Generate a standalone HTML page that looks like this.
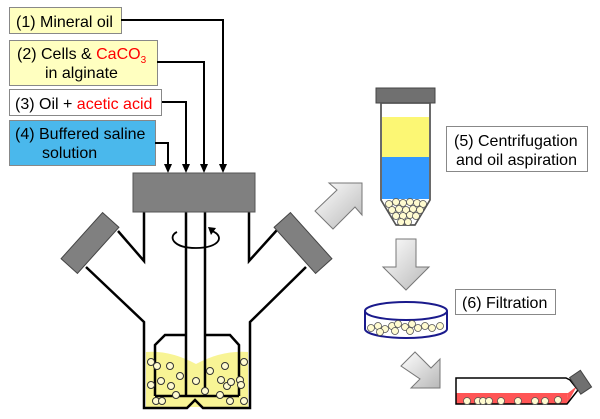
<!DOCTYPE html>
<html><head><meta charset="utf-8"><style>
body{margin:0;background:#fff;width:600px;height:419px;overflow:hidden;font-family:"Liberation Sans",sans-serif}
svg{display:block}
</style></head><body>
<svg width="600" height="419" viewBox="0 0 600 419" font-family="Liberation Sans, sans-serif">
<defs>
<linearGradient id="g" x1="0" y1="0" x2="1" y2="1"><stop offset="0" stop-color="#fff"/><stop offset="1" stop-color="#b8b8b8"/></linearGradient>
</defs>
<!-- labels -->
<rect x="9.5" y="7.5" width="112" height="26" fill="#ffffc0" stroke="#888"/>
<text x="16" y="27" font-size="16">(1) Mineral oil</text>
<rect x="9.5" y="40.5" width="148" height="45" fill="#ffffc0" stroke="#888"/>
<text x="17" y="59" font-size="16">(2) Cells &amp; <tspan fill="#f00">CaCO<tspan font-size="10" dy="4">3</tspan></tspan></text>
<text x="45" y="78" font-size="16">in alginate</text>
<rect x="9.5" y="89.5" width="152" height="26" fill="#fff" stroke="#888"/>
<text x="15" y="109" font-size="16">(3) Oil + <tspan fill="#f00">acetic acid</tspan></text>
<rect x="9.5" y="120.5" width="146" height="45" fill="#4ab8ec" stroke="#888"/>
<text x="15" y="139" font-size="16">(4) Buffered saline</text>
<text x="42" y="158" font-size="16">solution</text>
<!-- connectors -->
<g stroke="#000" stroke-width="2" fill="none">
<polyline points="121,20 223,20 223,165"/>
<polyline points="157,62 204,62 204,165"/>
<polyline points="162,102 186,102 186,165"/>
<polyline points="155,143 168,143 168,165"/>
</g>
<g fill="#000">
<path d="M219,164 L227,164 L223,173z"/><path d="M200,164 L208,164 L204,173z"/>
<path d="M182,164 L190,164 L186,173z"/><path d="M164,164 L172,164 L168,173z"/>
</g>
<!-- liquid -->
<path d="M146,352 Q170,350 196,364 Q222,350 248,352 L248,407 L146,407z" fill="#f7f38a" opacity="0.9"/>
<!-- flask -->
<g stroke="#000" stroke-width="2.5" fill="none">
<polyline points="118,231 144,261 144,212"/>
<polyline points="86,267 144,322 144,408 187,408 195,400 203,408 250,408 250,322 306,267"/>
<polyline points="277,230 249,261 249,212"/>
<line x1="186" y1="212" x2="186" y2="396"/><line x1="205" y1="212" x2="205" y2="396"/>
<polyline points="155,396 155,345 165,335 186,335"/>
<polyline points="205,335 230,335 239,345 239,396"/>
<line x1="155" y1="396" x2="239" y2="396"/>
</g>
<g fill="#fffbd0" stroke="#333" stroke-width="1">
<circle cx="151" cy="362" r="3.5"/><circle cx="157" cy="366" r="3.5"/><circle cx="170" cy="366" r="3.5"/><circle cx="180" cy="376" r="3.5"/>
<circle cx="161" cy="381" r="3.5"/><circle cx="171" cy="386" r="3.5"/><circle cx="151" cy="385" r="3.5"/><circle cx="176" cy="395" r="3.5"/>
<circle cx="156" cy="401" r="3.5"/><circle cx="162" cy="401" r="3.5"/><circle cx="196" cy="381" r="3.5"/><circle cx="210" cy="371" r="3.5"/>
<circle cx="205" cy="391" r="3.5"/><circle cx="225" cy="366" r="3.5"/><circle cx="221" cy="380" r="3.5"/><circle cx="227" cy="386" r="3.5"/>
<circle cx="231" cy="382" r="3.5"/><circle cx="240" cy="380" r="3.5"/><circle cx="241" cy="385" r="3.5"/><circle cx="244" cy="362" r="3.5"/>
<circle cx="220" cy="395" r="3.5"/><circle cx="230" cy="401" r="3.5"/><circle cx="244" cy="401" r="3.5"/>
</g>
<!-- gray block and caps -->
<rect x="133" y="173" width="122" height="39" fill="#808080" stroke="#555"/>
<rect x="59" y="232" width="62" height="22" fill="#808080" stroke="#444" transform="rotate(-48 90 243)"/>
<rect x="272" y="232" width="62" height="22" fill="#808080" stroke="#444" transform="rotate(48 303 243)"/>
<!-- rotation arrow -->
<path d="M177,232 C168,236 172,248 196,248 C220,248 225,236 212,231" fill="none" stroke="#000" stroke-width="1.8"/>
<path d="M208,227 L216,228 L211,235z" fill="#000"/>
<!-- arrows -->
<path d="M329,183 L362,183 L362,215 L355,207 L333,229 L315,211 L337,190z" fill="url(#g)" stroke="#777"/>
<path d="M396,239 L416,239 L416,267 L429,267 L406,290 L383,267 L396,267z" fill="url(#g)" stroke="#777"/>
<path d="M401,366 L415,352 L431,368 L440,359 L440,388 L411,388 L420,379z" fill="url(#g)" stroke="#777"/>
<!-- tube -->
<rect x="376" y="88" width="59" height="15" fill="#707070" stroke="#444"/>
<path d="M381,103 L430,103 L430,200 L415,225 L396,225 L381,200z" fill="#fff" stroke="#555" stroke-width="1.5"/>
<rect x="382" y="117" width="47" height="40" fill="#fcf774"/>
<rect x="382" y="157" width="47" height="42" fill="#3399ff"/>
<path d="M381,103 L430,103 L430,200 L415,225 L396,225 L381,200z" fill="none" stroke="#555" stroke-width="1.5"/>
<g fill="#fffbd0" stroke="#555" stroke-width="0.8">
<circle cx="389" cy="204" r="3.5"/><circle cx="396" cy="202" r="3.5"/><circle cx="403" cy="203" r="3.5"/><circle cx="410" cy="202" r="3.5"/><circle cx="417" cy="203" r="3.5"/><circle cx="423" cy="204" r="3.5"/>
<circle cx="392" cy="210" r="3.5"/><circle cx="399" cy="209" r="3.5"/><circle cx="406" cy="210" r="3.5"/><circle cx="413" cy="209" r="3.5"/><circle cx="420" cy="210" r="3.5"/>
<circle cx="396" cy="216" r="3.5"/><circle cx="403" cy="216" r="3.5"/><circle cx="410" cy="215" r="3.5"/><circle cx="416" cy="216" r="3.5"/>
<circle cx="401" cy="222" r="3.5"/><circle cx="408" cy="222" r="3.5"/>
</g>
<rect x="446.5" y="126.5" width="141" height="45" fill="#fff" stroke="#888"/>
<text x="454" y="146" font-size="16">(5) Centrifugation</text>
<text x="456" y="165" font-size="16">and oil aspiration</text>
<!-- dish -->
<path d="M365,311 L365,329 A41,9 0 0 0 447,329 L447,311" fill="#fff" stroke="#1a1a8c" stroke-width="2"/>
<ellipse cx="406" cy="311" rx="41" ry="9" fill="#fff" stroke="#1a1a8c" stroke-width="2"/>
<g fill="#fffbd0" stroke="#555" stroke-width="0.8">
<circle cx="371" cy="328" r="3.5"/><circle cx="378" cy="326" r="3.5"/><circle cx="385" cy="329" r="3.5"/><circle cx="392" cy="326" r="3.5"/><circle cx="398" cy="324" r="3.5"/><circle cx="405" cy="327" r="3.5"/><circle cx="412" cy="324" r="3.5"/><circle cx="418" cy="328" r="3.5"/><circle cx="425" cy="326" r="3.5"/><circle cx="432" cy="328" r="3.5"/><circle cx="440" cy="326" r="3.5"/><circle cx="395" cy="331" r="3.5"/><circle cx="380" cy="332" r="3.5"/><circle cx="410" cy="331" r="3.5"/>
</g>
<rect x="455.5" y="289.5" width="100" height="25" fill="#fff" stroke="#888"/>
<text x="462" y="308" font-size="16">(6) Filtration</text>
<!-- culture flask -->
<path d="M456,393 L568,393 L567,404 L456,404z" fill="#f55"/>
<path d="M568,393 L577,386 L567,404z" fill="#f55"/>
<path d="M456,378 L566,378 L570,380 L578,390 L567,404 L456,404z" fill="none" stroke="#000" stroke-width="1.5"/>
<g fill="#fffbd0" stroke="#555" stroke-width="0.8">
<circle cx="467" cy="401" r="3.5"/><circle cx="478" cy="401" r="3.5"/><circle cx="483" cy="401" r="3.5"/><circle cx="489" cy="401" r="3.5"/><circle cx="501" cy="401" r="3.5"/><circle cx="518" cy="401" r="3.5"/><circle cx="535" cy="401" r="3.5"/><circle cx="545" cy="401" r="3.5"/><circle cx="558" cy="400" r="3.5"/>
</g>
<rect x="571" y="376" width="20" height="13" fill="#707070" stroke="#444" transform="rotate(56 581 382)"/>
</svg>
</body></html>
